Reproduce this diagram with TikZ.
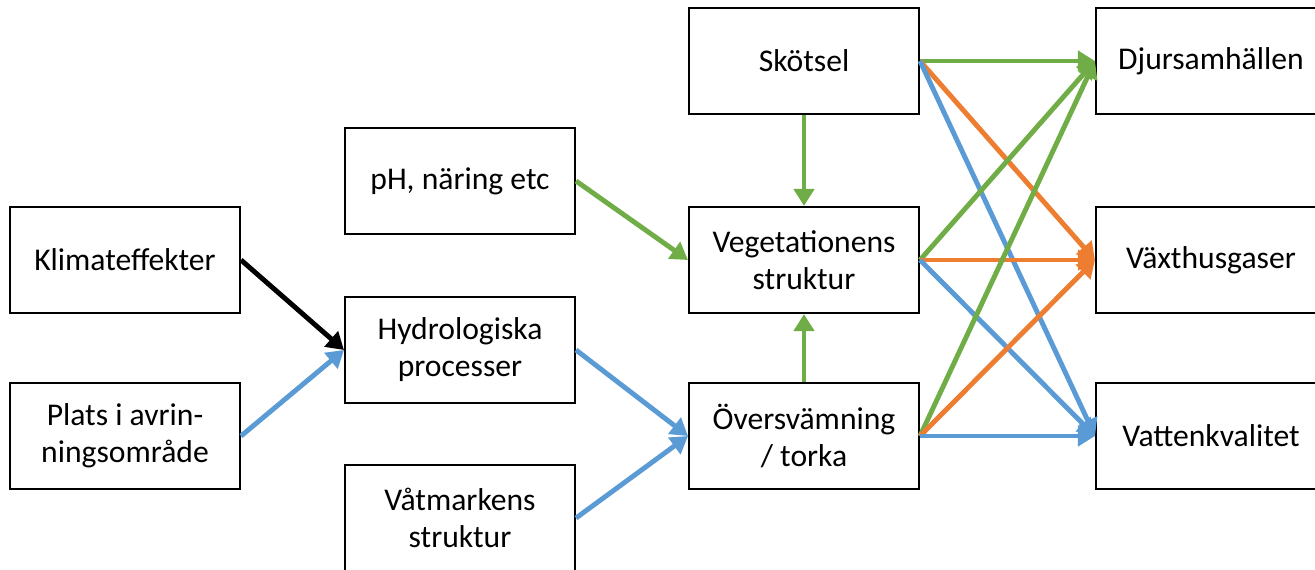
\documentclass[tikz,border=0pt]{standalone}
\usepackage{fontspec}
\setmainfont{Carlito}
\usetikzlibrary{arrows.meta}
\definecolor{grn}{HTML}{70AD47}
\definecolor{org}{HTML}{ED7D31}
\definecolor{blu}{HTML}{5B9BD5}
\tikzset{
	box/.style={draw, line width=1.2pt, minimum width=4.6cm, minimum height=2.12cm,
		inner sep=0pt, align=center, font=\fontsize{18}{21}\selectfont},
	link/.style={line width=2.8pt, -{Triangle[length=0.34cm, width=0.4cm]}}
}
\begin{document}
\begin{tikzpicture}[x=0.02cm, y=-0.02cm]
		\useasboundingbox (0,0) rectangle (1315,569);
		% first column
		\node[box] (klim) at (125,260) {Klimateffekter};
		\node[box] (plats) at (125,436) {Plats i avrin-\\ningsområde};
		% second column
		\node[box] (ph) at (460,181) {pH, näring etc};
		\node[box] (hydro) at (460,350) {Hydrologiska\\processer};
		\node[box] (vatm) at (460,518) {Våtmarkens\\struktur};
		% third column
		\node[box] (skot) at (804,61) {Skötsel};
		\node[box] (veg) at (804,260) {Vegetationens\\struktur};
		\node[box] (over) at (804,436) {Översvämning\\/ torka};
		% effects
		\node[box] (djur) at (1211,61) {Djursamhällen};
		\node[box] (vaxt) at (1211,260) {Växthusgaser};
		\node[box] (vkv) at (1211,436) {Vattenkvalitet};
		
		\draw[link, black] (klim.east) to (hydro.west);
		\draw[link, blu] (plats.east) to (hydro.west);
		\draw[link, grn] (ph.east) to (veg.west);
		\draw[link, blu] (hydro.east) to (over.west);
		\draw[link, blu] (vatm.east) to (over.west);
		\draw[link, grn] (skot.south) to (veg.north);
		\draw[link, grn] (over.north) to (veg.south);
		
		\foreach \src in {skot, veg, over} {
			\draw[link, grn] (\src.east) to (djur.west);
			\draw[link, org] (\src.east) to (vaxt.west);
			\draw[link, blu] (\src.east) to (vkv.west);
		}
	\end{tikzpicture}
\end{document}
